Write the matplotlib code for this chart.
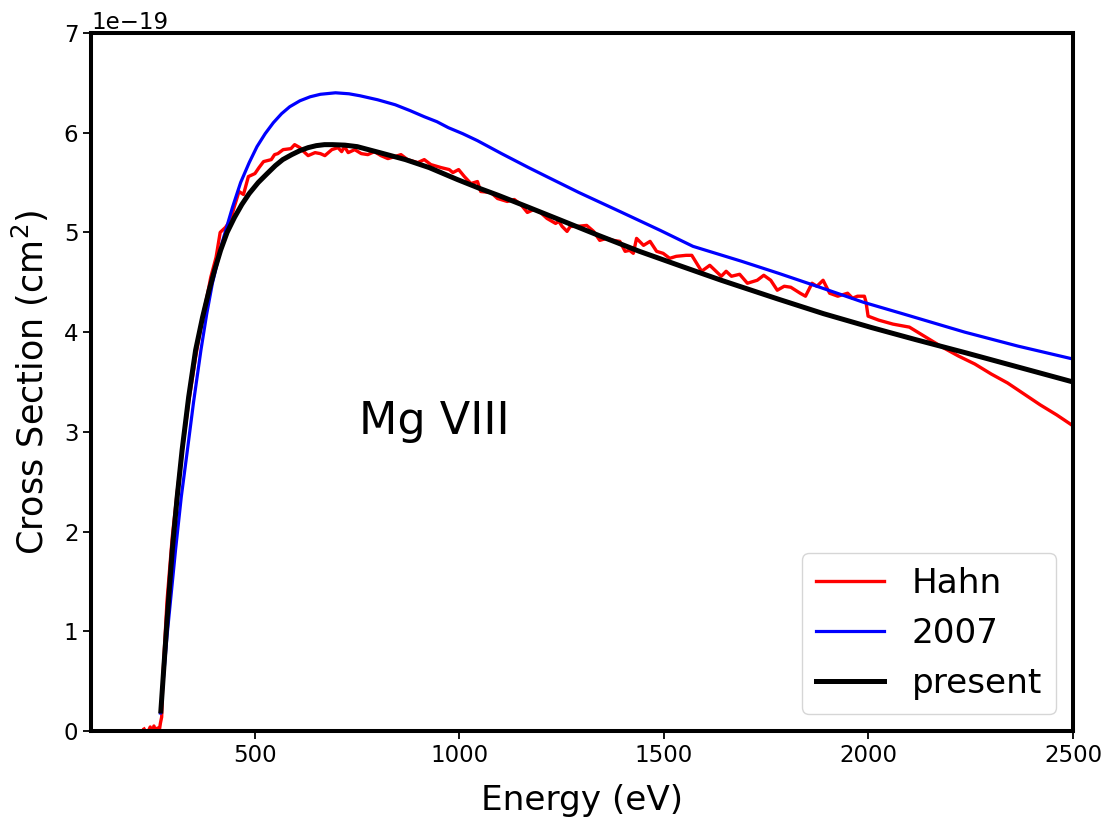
import numpy as np
import matplotlib
matplotlib.use('Agg')
import matplotlib.pyplot as plt

# ===== DATA =====
# Hahn measurement (noisy)
hahn_e = [229, 236, 244, 249, 253, 258, 262, 266, 269, 272, 275, 285, 298, 310, 322,
          338, 355, 372, 385, 392, 405, 415, 428, 440, 449, 461, 472, 484, 500, 510,
          521, 540, 548, 556, 569, 588, 597, 610, 622, 630, 647, 660, 671, 688, 703,
          712, 719, 728, 744, 760, 776, 792, 808, 825, 842, 857, 873, 898, 914, 930,
          955, 975, 984, 998, 1012, 1028, 1044, 1052, 1077, 1093, 1117, 1134, 1150, 1166, 1182,
          1198, 1214, 1235, 1243, 1251, 1263, 1271, 1287, 1311, 1328, 1343, 1360, 1376, 1392, 1405,
          1416, 1425, 1433, 1450, 1466, 1482, 1498, 1514, 1530, 1554, 1568, 1580, 1592, 1612, 1640,
          1652, 1665, 1685, 1704, 1728, 1744, 1761, 1777, 1794, 1810, 1833, 1846, 1862, 1874, 1889,
          1905, 1925, 1949, 1961, 1973, 1990, 1994, 1999, 2025, 2060, 2100, 2140, 2180, 2220, 2260,
          2300, 2340, 2380, 2420, 2460, 2500]
hahn_cs = [0.02, -0.03, 0.04, -0.02, 0.05, -0.01, 0.03, 0.00, 0.08, 0.14, 0.55, 1.30, 1.95, 2.40, 2.80,
           3.30, 3.75, 4.15, 4.40, 4.55, 4.75, 5.00, 5.05, 5.12, 5.25, 5.41, 5.38, 5.56, 5.59, 5.65,
           5.71, 5.73, 5.78, 5.79, 5.83, 5.84, 5.88, 5.85, 5.80, 5.77, 5.80, 5.79, 5.77, 5.83, 5.85,
           5.81, 5.86, 5.80, 5.83, 5.79, 5.78, 5.81, 5.77, 5.74, 5.76, 5.78, 5.73, 5.70, 5.73, 5.68,
           5.65, 5.63, 5.60, 5.63, 5.56, 5.49, 5.51, 5.41, 5.40, 5.34, 5.31, 5.33, 5.28, 5.20, 5.23,
           5.20, 5.14, 5.09, 5.11, 5.06, 5.01, 5.06, 5.06, 5.07, 5.01, 4.92, 4.94, 4.92, 4.91, 4.81,
           4.82, 4.79, 4.94, 4.87, 4.91, 4.81, 4.79, 4.74, 4.76, 4.77, 4.77, 4.69, 4.61, 4.67, 4.56,
           4.61, 4.56, 4.58, 4.49, 4.52, 4.57, 4.52, 4.42, 4.46, 4.45, 4.39, 4.36, 4.49, 4.46, 4.52,
           4.39, 4.36, 4.39, 4.34, 4.36, 4.36, 4.30, 4.16, 4.12, 4.08, 4.05, 3.95, 3.85, 3.76, 3.68,
           3.58, 3.49, 3.38, 3.27, 3.17, 3.06]

# 2007 calculation
old_e = [269, 285, 306, 320, 335, 350, 368, 382, 396, 420, 445, 465, 486, 505, 525,
         545, 565, 585, 610, 635, 660, 697, 730, 757, 800, 843, 880, 914, 945, 973,
         1008, 1044, 1103, 1169, 1218, 1292, 1392, 1491, 1571, 1690, 1780, 1888, 1987, 2087, 2235,
         2365, 2500]
old_cs = [0.18, 0.95, 1.82, 2.35, 2.82, 3.30, 3.82, 4.18, 4.49, 4.90, 5.25, 5.50, 5.70, 5.86, 5.99,
          6.10, 6.19, 6.26, 6.32, 6.36, 6.385, 6.40, 6.39, 6.37, 6.33, 6.28, 6.22, 6.16, 6.11, 6.05,
          5.99, 5.92, 5.79, 5.65, 5.55, 5.40, 5.21, 5.02, 4.86, 4.71, 4.59, 4.44, 4.30, 4.18, 4.00,
          3.86, 3.73]

# present calculation
new_e = [270, 285, 298, 310, 322, 338, 355, 372, 388, 402, 416, 432, 450, 468, 486,
         508, 530, 550, 568, 590, 610, 630, 650, 670, 690, 720, 750, 805, 868, 926,
         995, 1050, 1096, 1170, 1243, 1340, 1440, 1536, 1640, 1780, 1890, 2008, 2115, 2240, 2370,
         2500]
new_cs = [0.20, 1.10, 1.82, 2.35, 2.82, 3.35, 3.82, 4.15, 4.42, 4.63, 4.82, 5.00, 5.15, 5.28, 5.39,
          5.50, 5.59, 5.67, 5.73, 5.78, 5.82, 5.85, 5.87, 5.88, 5.88, 5.875, 5.86, 5.80, 5.73, 5.65,
          5.53, 5.44, 5.37, 5.25, 5.13, 4.97, 4.81, 4.67, 4.52, 4.33, 4.185, 4.045, 3.925, 3.79, 3.645,
          3.50]

SCALE = 1e-19

fig = plt.figure(figsize=(11.11, 8.18), dpi=100)
ax = fig.add_axes([0.0822, 0.1064, 0.8836, 0.8533])

ax.plot(hahn_e, np.array(hahn_cs) * SCALE, color='red', lw=2.4, label='Hahn')
ax.plot(old_e, np.array(old_cs) * SCALE, color='blue', lw=2.3, label='2007')
ax.plot(new_e, np.array(new_cs) * SCALE, color='black', lw=3.6, label='present')

ax.set_xlim(100, 2500)
ax.set_ylim(0, 7e-19)
ax.set_xticks([500, 1000, 1500, 2000, 2500])
ax.set_yticks(np.arange(0, 8) * 1e-19)

for s in ax.spines.values():
    s.set_linewidth(2.9)
ax.tick_params(labelsize=16.5, length=5.8, width=1.3)
ax.yaxis.get_offset_text().set_fontsize(16.5)

ax.set_xlabel('Energy (eV)', fontsize=24.7, labelpad=12)
ax.set_ylabel('Cross Section (cm$^2$)', fontsize=25.2, labelpad=9)

ax.text(755, 3.1e-19, 'Mg VIII', fontsize=32, va='center', ha='left')

ax.legend(loc='lower right', fontsize=24.7, handlelength=2.0)

fig.savefig('out.png', dpi=100)
